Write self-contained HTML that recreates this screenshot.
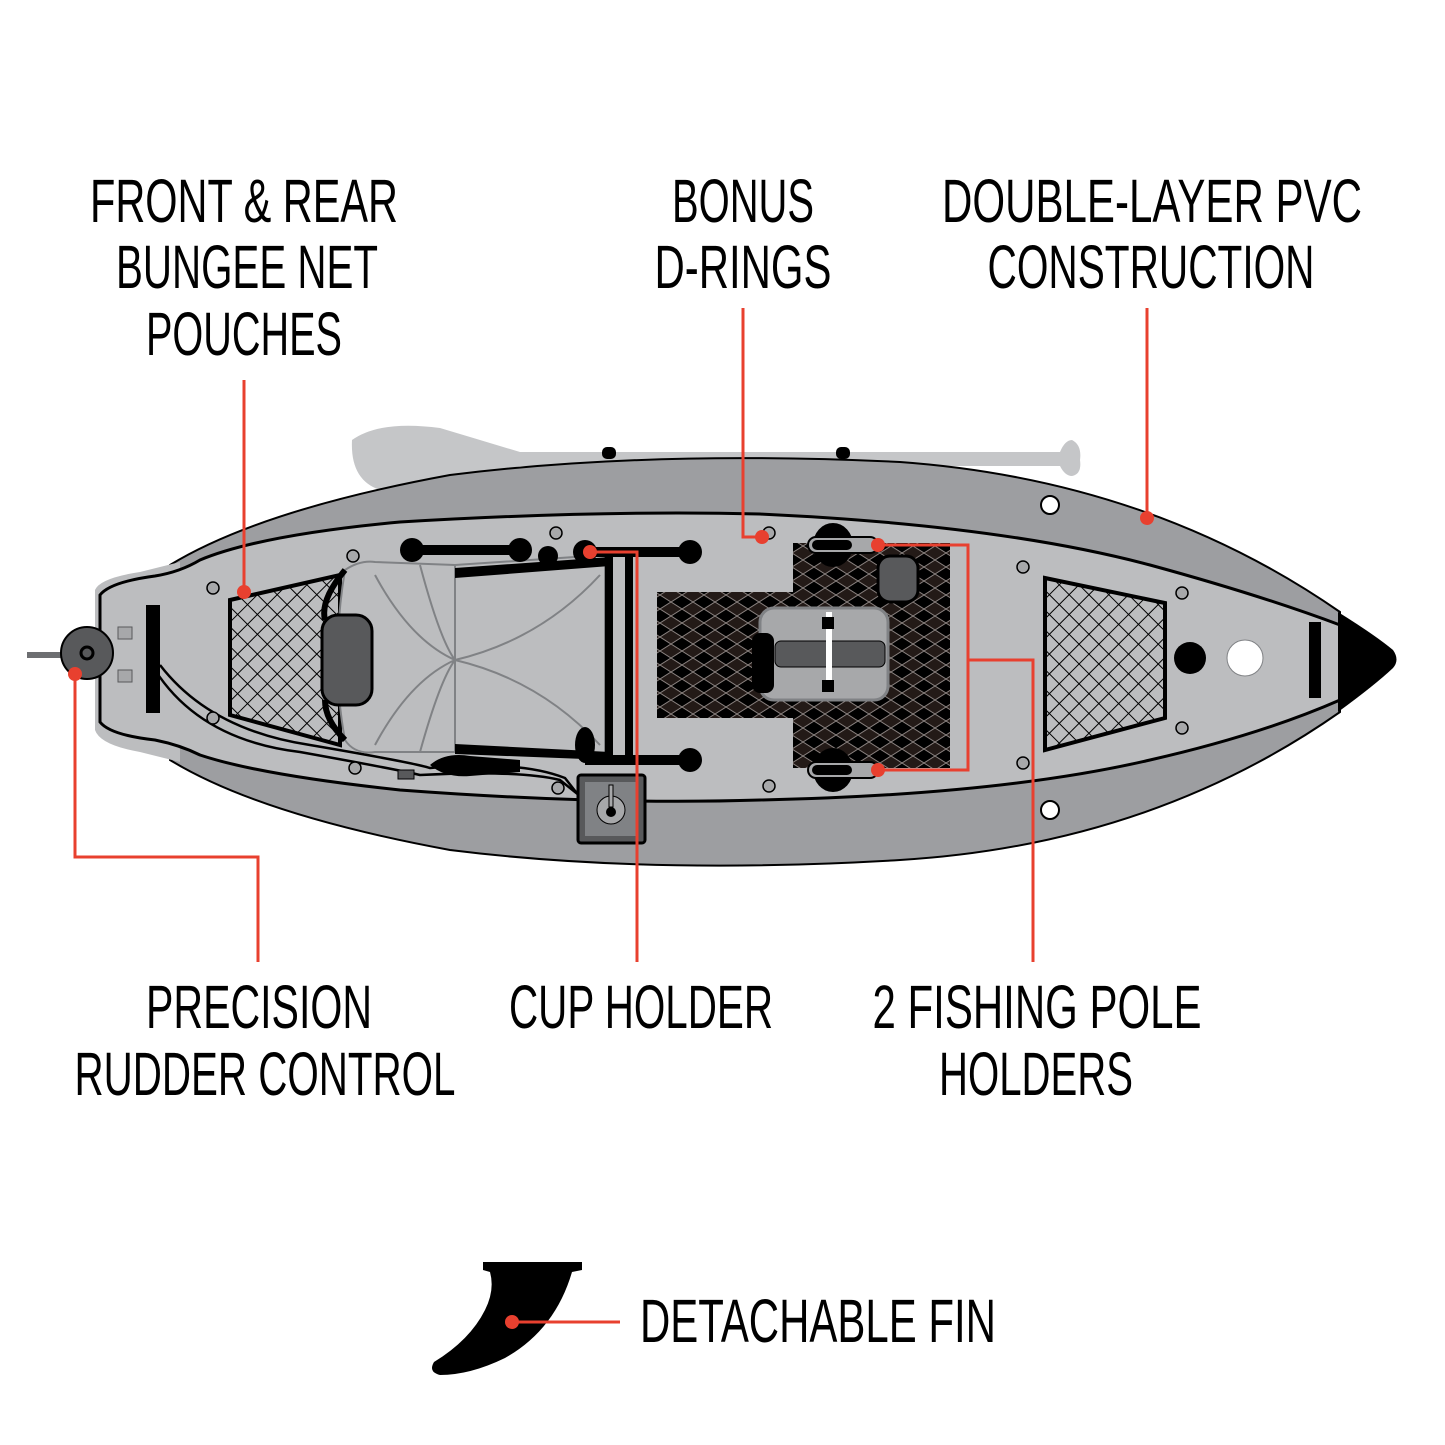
<!DOCTYPE html>
<html><head><meta charset="utf-8"><style>
html,body{margin:0;padding:0;background:#fff;}
svg{display:block}
text{font-family:"Liberation Sans Narrow","Liberation Sans",sans-serif;font-size:61px;fill:#000;}
</style></head><body>
<svg width="1445" height="1445" viewBox="0 0 1445 1445" xmlns="http://www.w3.org/2000/svg">
<defs>
<pattern id="net" width="14" height="14" patternUnits="userSpaceOnUse" patternTransform="rotate(45)">
<rect width="14" height="14" fill="#bcbdbf"/>
<path d="M0 0H14M0 0V14" stroke="#000" stroke-width="2"/>
</pattern>
<pattern id="mat" width="22" height="14" patternUnits="userSpaceOnUse">
<rect width="22" height="14" fill="#000"/>
<path d="M0 7L11 0L22 7L11 14Z" fill="#231a17" stroke="#8a8280" stroke-width="1"/>
</pattern>
</defs>
<g text-anchor="middle">
<text x="244" y="222" textLength="308" lengthAdjust="spacingAndGlyphs">FRONT &amp; REAR</text>
<text x="247" y="288" textLength="262" lengthAdjust="spacingAndGlyphs">BUNGEE NET</text>
<text x="244" y="355" textLength="196" lengthAdjust="spacingAndGlyphs">POUCHES</text>
<text x="743" y="222" textLength="142" lengthAdjust="spacingAndGlyphs">BONUS</text>
<text x="743" y="288" textLength="177" lengthAdjust="spacingAndGlyphs">D-RINGS</text>
<text x="1152" y="222" textLength="420" lengthAdjust="spacingAndGlyphs">DOUBLE-LAYER PVC</text>
<text x="1151" y="288" textLength="327" lengthAdjust="spacingAndGlyphs">CONSTRUCTION</text>
<text x="259" y="1028" textLength="226" lengthAdjust="spacingAndGlyphs">PRECISION</text>
<text x="265" y="1095" textLength="381" lengthAdjust="spacingAndGlyphs">RUDDER CONTROL</text>
<text x="641" y="1028" textLength="264" lengthAdjust="spacingAndGlyphs">CUP HOLDER</text>
<text x="1037" y="1028" textLength="329" lengthAdjust="spacingAndGlyphs">2 FISHING POLE</text>
<text x="1036" y="1095" textLength="194" lengthAdjust="spacingAndGlyphs">HOLDERS</text>
<text x="818" y="1342" textLength="356" lengthAdjust="spacingAndGlyphs">DETACHABLE FIN</text>
</g>
<path d="M352 440 Q380 420 440 428 Q480 440 520 452 L1060 452 Q1065 440 1072 440 Q1082 445 1080 460 Q1082 474 1072 476 Q1065 476 1060 466 L520 466 Q470 480 380 490 Q350 480 352 440Z" fill="#c5c6c8"/>
<rect x="27" y="652" width="40" height="6" fill="#6d6e71"/>
<path d="M170 565 Q260 510 450 475 Q650 450 900 462 Q1150 480 1340 612 L1340 712 Q1150 845 900 860 Q650 875 450 850 Q260 815 170 760Z" fill="#9d9ea1" stroke="#000" stroke-width="2"/>
<rect x="602" y="447" width="14" height="12" rx="5" fill="#000"/>
<rect x="836" y="447" width="14" height="12" rx="5" fill="#000"/>
<path d="M95 590 Q100 578 140 572 L180 562 L180 762 L140 752 Q100 745 95 730Z" fill="#bcbdbf"/>
<path d="M100 595 Q110 582 155 576 Q180 572 200 560 Q260 535 400 522 Q600 510 760 514 Q1000 525 1150 565 Q1260 595 1340 625 L1340 700 Q1260 735 1150 760 Q1000 795 760 800 Q600 805 400 790 Q260 775 200 755 Q180 745 155 740 Q110 735 100 722Z" fill="#bcbdbf" stroke="#000" stroke-width="3"/>
<path d="M1338 612 Q1375 635 1393 650 Q1400 660 1393 668 Q1375 685 1338 712Z" fill="#000"/>
<circle cx="87" cy="653" r="26" fill="#58595b" stroke="#000" stroke-width="2"/>
<circle cx="87" cy="653" r="6" fill="none" stroke="#000" stroke-width="3"/>
<rect x="118" y="627" width="14" height="12" fill="#a7a8aa" stroke="#58595b"/>
<rect x="118" y="670" width="14" height="12" fill="#a7a8aa" stroke="#58595b"/>
<rect x="146" y="605" width="14" height="108" fill="#000"/>
<rect x="1309" y="622" width="12" height="76" fill="#000"/>
<path d="M155 670 Q200 740 300 752 Q400 770 420 775 Q520 770 560 780 L585 800" fill="none" stroke="#000" stroke-width="2.5"/>
<path d="M160 665 Q210 730 310 745 Q410 762 430 768 Q520 760 565 778 L590 810" fill="none" stroke="#000" stroke-width="2.5"/>
<rect x="398" y="770" width="16" height="9" fill="#58595b" stroke="#000"/>
<path d="M230 600 L340 575 L340 745 L230 715Z" fill="url(#net)" stroke="#000" stroke-width="4"/>
<path d="M345 570 Q360 560 375 562 L455 565 L605 555 L605 755 L455 752 L375 752 Q355 755 345 740 Q330 660 345 570Z" fill="#bcbdbf" stroke="#808285" stroke-width="2"/>
<path d="M455 565 L455 752 M375 575 Q410 640 455 660 M375 745 Q410 680 455 660 M455 660 Q540 640 600 575 M455 660 Q540 680 600 745 M420 565 Q440 640 455 660 M420 752 Q440 680 455 660" fill="none" stroke="#808285" stroke-width="2"/>
<rect x="322" y="615" width="50" height="90" rx="16" fill="#58595b" stroke="#000" stroke-width="3"/>
<path d="M345 570 Q320 600 325 620 M345 740 Q325 720 325 700" fill="none" stroke="#000" stroke-width="6"/>
<g fill="#000">
<rect x="410" y="545" width="110" height="10"/>
<circle cx="412" cy="550" r="12"/><circle cx="520" cy="550" r="12"/>
<circle cx="548" cy="556" r="10"/><circle cx="585" cy="552" r="12"/>
<rect x="585" y="547" width="105" height="10"/><circle cx="690" cy="552" r="12"/>
<path d="M455 568 L610 557 L610 566 L455 578Z"/>
<path d="M455 744 L610 752 L610 760 L455 754Z"/>
<rect x="605" y="555" width="8" height="205"/>
<rect x="625" y="555" width="8" height="205"/>
<rect x="585" y="755" width="105" height="10"/><circle cx="690" cy="760" r="12"/>
<ellipse cx="585" cy="745" rx="10" ry="18"/>
<path d="M430 765 Q445 752 470 756 L520 760 L520 772 L470 776 Q445 778 430 765Z"/>
</g>
<rect x="578" y="775" width="67" height="68" rx="3" fill="#58595b" stroke="#000" stroke-width="3"/>
<rect x="585" y="782" width="53" height="54" fill="#808285"/>
<circle cx="611" cy="810" r="14" fill="#a7a8aa" stroke="#000"/>
<circle cx="611" cy="812" r="5" fill="#000"/>
<rect x="609" y="785" width="4" height="22" fill="#a7a8aa" stroke="#000" stroke-width="1"/>
<rect x="657" y="592" width="140" height="126" fill="url(#mat)"/>
<rect x="793" y="543" width="157" height="225" fill="url(#mat)"/>
<ellipse cx="833" cy="545" rx="20" ry="22" fill="#000"/>
<ellipse cx="833" cy="770" rx="20" ry="22" fill="#000"/>
<rect x="808" y="537" width="70" height="16" rx="8" fill="#a7a8aa" stroke="#000" stroke-width="2"/>
<rect x="812" y="540" width="40" height="10" rx="5" fill="#000"/>
<rect x="808" y="762" width="70" height="16" rx="8" fill="#a7a8aa" stroke="#000" stroke-width="2"/>
<rect x="812" y="765" width="40" height="10" rx="5" fill="#000"/>
<rect x="878" y="556" width="40" height="46" rx="12" fill="#58595b" stroke="#000" stroke-width="3"/>
<rect x="760" y="608" width="128" height="92" rx="14" fill="#a7a8aa" stroke="#808285" stroke-width="3"/>
<rect x="775" y="641" width="110" height="26" rx="6" fill="#58595b" stroke="#000"/>
<rect x="826" y="612" width="6" height="80" fill="#fff"/>
<rect x="822" y="617" width="12" height="12" fill="#000"/><rect x="822" y="680" width="12" height="12" fill="#000"/>
<rect x="752" y="633" width="22" height="60" rx="8" fill="#000"/>
<path d="M1045 578 L1165 603 L1165 718 L1045 750Z" fill="url(#net)" stroke="#000" stroke-width="4"/>
<circle cx="1190" cy="658" r="16" fill="#000"/>
<circle cx="1245" cy="658" r="18" fill="#fff" stroke="#808285"/>
<circle cx="1050" cy="505" r="9" fill="#fff" stroke="#000" stroke-width="2"/>
<circle cx="1050" cy="810" r="9" fill="#fff" stroke="#000" stroke-width="2"/>
<g fill="#a7a8aa" stroke="#000" stroke-width="1.5">
<circle cx="213" cy="588" r="6"/><circle cx="353" cy="556" r="6"/><circle cx="213" cy="718" r="6"/><circle cx="355" cy="768" r="6"/>
<circle cx="556" cy="533" r="6"/><circle cx="558" cy="788" r="6"/><circle cx="769" cy="533" r="6"/><circle cx="769" cy="786" r="6"/>
<circle cx="1023" cy="567" r="6"/><circle cx="1182" cy="593" r="6"/><circle cx="1182" cy="728" r="6"/><circle cx="1023" cy="763" r="6"/>
</g>
<path d="M483 1262 L582 1262 L582 1270 L572 1272 Q555 1330 505 1358 Q470 1375 440 1375 Q428 1372 434 1362 Q470 1340 485 1310 Q495 1290 490 1272 L483 1270Z" fill="#000"/>
<g stroke="#e8402f" stroke-width="3" fill="none">
<path d="M244 380 V592"/>
<path d="M743 308 V537 H762"/>
<path d="M1147 308 V518"/>
<path d="M75 674 V857 H258 V962"/>
<path d="M590 552 H637 V962"/>
<path d="M878 545 H968 V770 H878 M968 660 H1033 V962"/>
<path d="M512 1322 H620"/>
</g>
<g fill="#e8402f">
<circle cx="244" cy="592" r="7"/><circle cx="762" cy="537" r="7"/><circle cx="1147" cy="518" r="7"/>
<circle cx="75" cy="674" r="7"/><circle cx="590" cy="552" r="7"/><circle cx="878" cy="545" r="7"/>
<circle cx="878" cy="770" r="7"/><circle cx="512" cy="1322" r="7"/>
</g>
</svg>
</body></html>
